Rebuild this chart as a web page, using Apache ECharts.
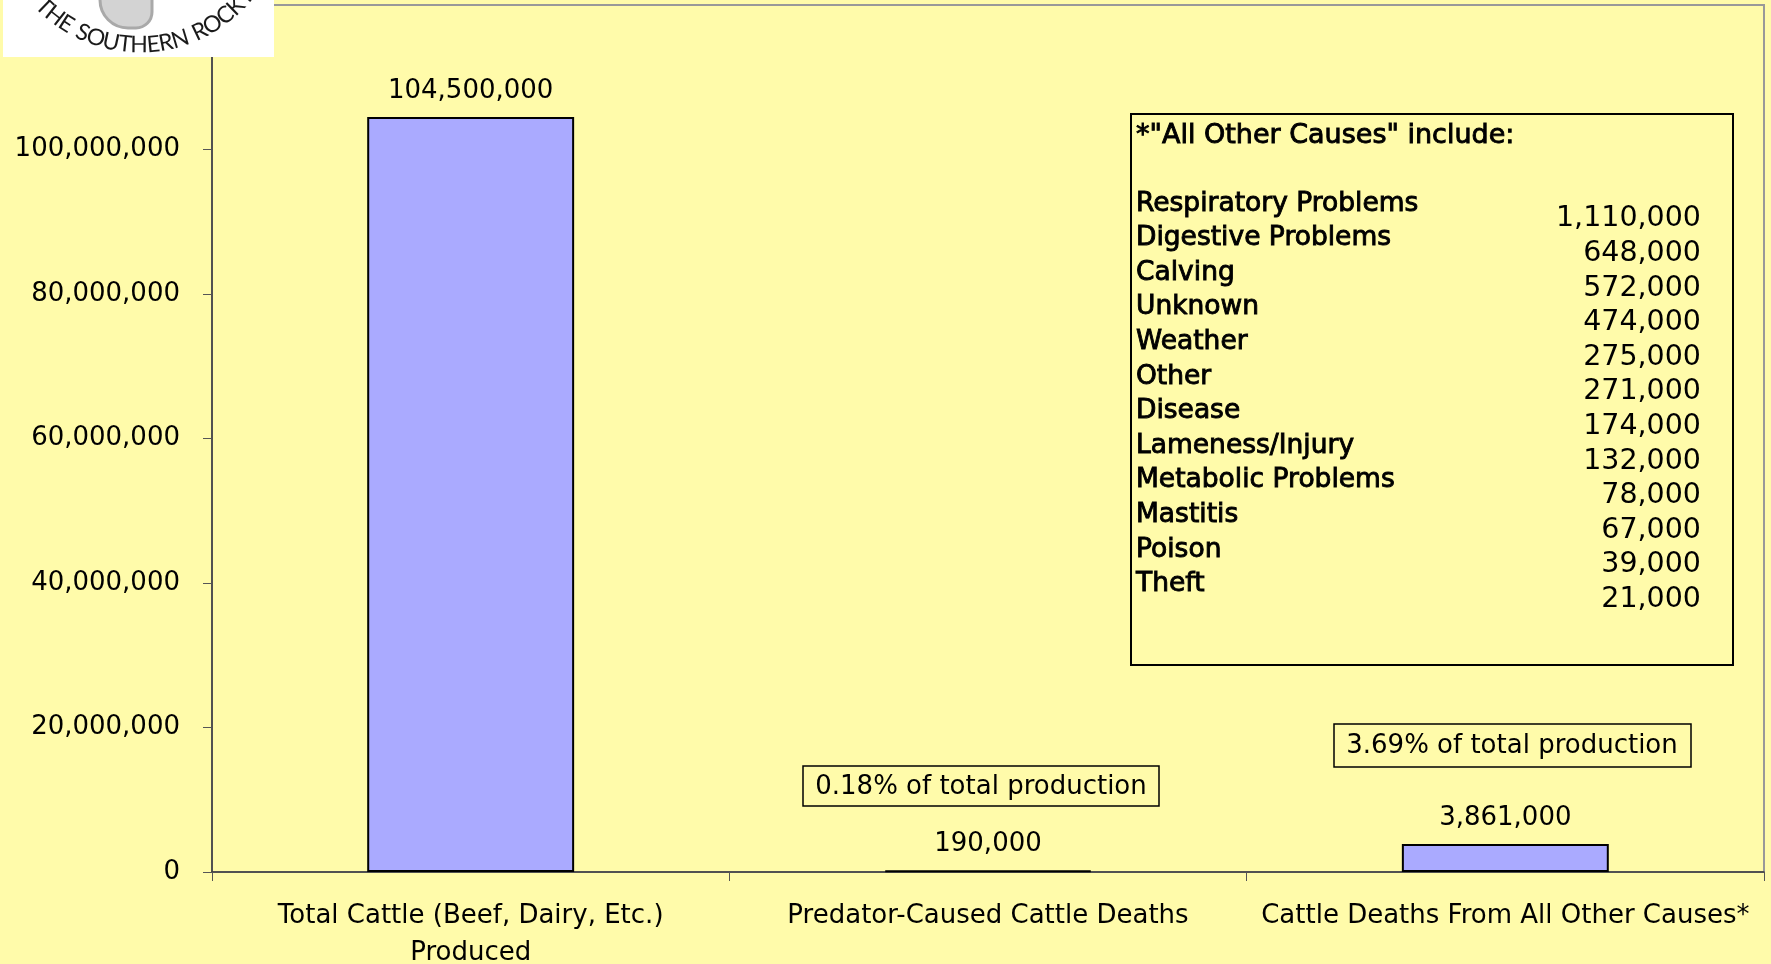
<!DOCTYPE html>
<html>
<head>
<meta charset="utf-8">
<title>Cattle produced vs. cattle deaths</title>
<script src="https://cdn.jsdelivr.net/npm/echarts@6/dist/echarts.min.js"></script>
<style>
  html, body { margin: 0; padding: 0; background: #fffbaa; }
  #chart { width: 1771px; height: 964px; }
</style>
</head>
<body>
<div id="chart"></div>
<script>
// main bars
const categories = [
  'Total Cattle (Beef, Dairy, Etc.)\nProduced',
  'Predator-Caused Cattle Deaths',
  'Cattle Deaths From All Other Causes*'
];
const cattleValues = [104500000, 190000, 3861000];
const yMin = 0;
const yMax = 120000000;
const yStep = 20000000;

// breakdown of "all other causes"
const causeNames = [
  'Respiratory Problems', 'Digestive Problems', 'Calving', 'Unknown', 'Weather', 'Other',
  'Disease', 'Lameness/Injury', 'Metabolic Problems', 'Mastitis', 'Poison', 'Theft'
];
const causeValues = [1110000, 648000, 572000, 474000, 275000, 271000, 174000, 132000, 78000, 67000, 39000, 21000];

const FONT = 'DejaVu Sans';
const fmt = v => v.toLocaleString('en-US');
const pct = v => (Math.floor(v / cattleValues[0] * 10000) / 100).toFixed(2) + '% of total production';

// logo in the top left corner (white card with curved text)
// letters are spread along an arc by their own widths, T..K spanning 134deg..46deg
const logoText = 'THE SOUTHERN ROCKY';
const logoFont = '23px "Lato"';
const ctx = document.createElement('canvas').getContext('2d');
ctx.font = logoFont;
const widths = logoText.split('').map(ch => ctx.measureText(ch).width + 2);
const centers = [];
let run = 0;
widths.forEach(w => { centers.push(run + w / 2); run += w; });
const a0 = 134, a1 = 46, kIdx = 16;
const logoLetters = logoText.split('').map((ch, i) => {
  const t = (centers[i] - centers[0]) / (centers[kIdx] - centers[0]);
  const phi = (a0 + (a1 - a0) * t) * Math.PI / 180;
  return {
    type: 'text', z: 101,
    x: 140 + 138 * Math.cos(phi),
    y: -93 + 138 * Math.sin(phi),
    rotation: -(phi - Math.PI / 2),
    style: { text: ch, font: logoFont, fill: '#1a1a1a', align: 'center', verticalAlign: 'middle' }
  };
});

const chart = echarts.init(document.getElementById('chart'));

chart.setOption({
  backgroundColor: '#fffbaa',
  animation: false,
  grid: {
    left: 212, right: 7, top: 5, bottom: 92,
    outerBoundsMode: 'none', containLabel: false,
    show: true, borderColor: '#999', borderWidth: 2
  },
  xAxis: {
    type: 'category',
    data: categories,
    axisLine: { lineStyle: { color: '#3a3a3a', width: 1.5 } },
    axisTick: { show: true, length: 9, lineStyle: { color: '#555' } },
    axisLabel: { color: '#000', fontFamily: FONT, fontSize: 26, lineHeight: 37, margin: 26, interval: 0 }
  },
  yAxis: {
    type: 'value',
    min: yMin, max: yMax, interval: yStep,
    axisLine: { show: true, lineStyle: { color: '#3a3a3a', width: 1.5 } },
    axisTick: { show: true, length: 9, lineStyle: { color: '#555' } },
    splitLine: { show: false },
    axisLabel: { color: '#000', fontFamily: FONT, fontSize: 26, margin: 32, formatter: fmt }
  },
  series: [{
    type: 'bar',
    data: cattleValues,
    barWidth: '40%',
    itemStyle: { color: '#aaaaff', borderColor: '#000', borderWidth: 2 },
    label: {
      show: true, position: 'top', distance: 13,
      color: '#000', fontFamily: FONT, fontSize: 26,
      formatter: p => fmt(p.value)
    }
  }],
  graphic: [
    // share-of-production notes
    { type: 'rect', z: 50, shape: { x: 803, y: 766, width: 356, height: 40 },
      style: { fill: 'none', stroke: '#000', lineWidth: 1.5 } },
    { type: 'text', z: 51, x: 981, y: 787,
      style: { text: pct(cattleValues[1]), font: '26px "DejaVu Sans"', fill: '#000', align: 'center', verticalAlign: 'middle' } },
    { type: 'rect', z: 50, shape: { x: 1334, y: 724, width: 357, height: 43 },
      style: { fill: 'none', stroke: '#000', lineWidth: 1.5 } },
    { type: 'text', z: 51, x: 1512, y: 746,
      style: { text: pct(cattleValues[2]), font: '26px "DejaVu Sans"', fill: '#000', align: 'center', verticalAlign: 'middle' } },

    // "all other causes" box
    { type: 'rect', z: 50, shape: { x: 1131, y: 114, width: 602, height: 551 },
      style: { fill: 'none', stroke: '#000', lineWidth: 2 } },
    { type: 'text', z: 51, x: 1136, y: 136,
      style: { text: '*"All Other Causes" include:', font: '27px "DejaVu Sans"', fill: '#000',
        stroke: '#000', lineWidth: 0.9, verticalAlign: 'middle' } },
    { type: 'text', z: 51, x: 1136, y: 186.4,
      style: { text: causeNames.join('\n'), font: '26.5px "DejaVu Sans"', lineHeight: 34.6, fill: '#000',
        stroke: '#000', lineWidth: 0.9, verticalAlign: 'top' } },
    { type: 'text', z: 51, x: 1701, y: 201.7,
      style: { text: causeValues.map(fmt).join('\n'), font: '28.5px "DejaVu Sans"', lineHeight: 34.6, fill: '#000',
        align: 'right', verticalAlign: 'top' } },

    // logo card
    { type: 'rect', z: 99, shape: { x: 3, y: 0, width: 271, height: 57 }, style: { fill: '#fff' } },
    { type: 'rect', z: 100, shape: { x: 100, y: -40, width: 52, height: 68, r: [0, 0, 16, 28] },
      style: { fill: '#d3d3d3', stroke: '#a9a9a9', lineWidth: 3 } },
    ...logoLetters
  ]
});
</script>
</body>
</html>
